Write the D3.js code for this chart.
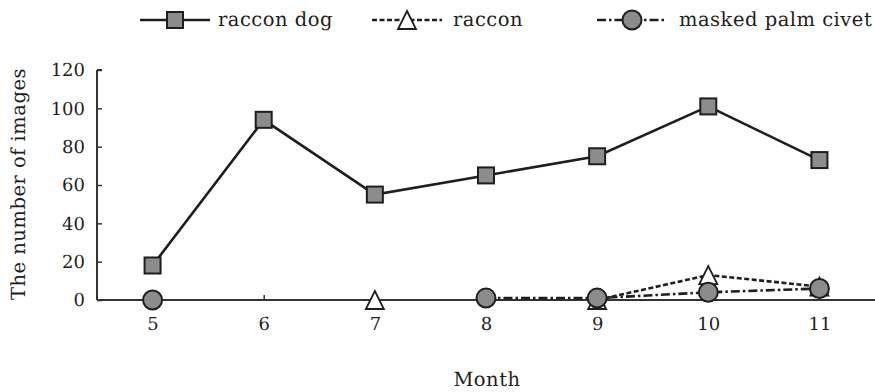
<!DOCTYPE html>
<html><head><meta charset="utf-8">
<script src="https://cdn.jsdelivr.net/npm/d3@7"></script>
<style>body{margin:0;background:#fff}svg{display:block}text{text-rendering:geometricPrecision}</style>
</head><body>
<script>
const months = [5, 6, 7, 8, 9, 10, 11];
const raccoonDog = [18, 94, 55, 65, 75, 101, 73];
const raccoon = [null, null, 0, null, 0, 13, 7];
const civet = [0, null, null, 1, 1, 4, 6];
const yTicks = [0, 20, 40, 60, 80, 100, 120];
const seriesNames = ["raccon dog", "raccon", "masked palm civet"];

const W = 875, H = 392;
const svg = d3.select("body").append("svg").attr("width", W).attr("height", H);
const font = "'DejaVu Serif', serif";
const ink = "#1e1e1e", grey = "#8c8c8e";

const x = d3.scaleLinear().domain([4.5, 11.5]).range([97, 875]);
const y = d3.scaleLinear().domain([0, 120]).range([300, 70]);

// axes
const yAxis = d3.axisLeft(y).tickValues(yTicks).tickFormat(d3.format("d")).tickSize(-5).tickPadding(12);
const gy = svg.append("g").attr("transform", "translate(97,0)").call(yAxis);
const xAxis = d3.axisBottom(x).tickValues(months).tickFormat(d3.format("d")).tickSize(-5).tickPadding(17);
const gx = svg.append("g").attr("transform", "translate(0,300)").call(xAxis);
[gx, gy].forEach(g => {
  g.select(".domain").attr("stroke", "#333").attr("stroke-width", 2);
  g.selectAll(".tick line").attr("stroke", "#333").attr("stroke-width", 1.5);
  g.selectAll(".tick text").attr("fill", ink).style("font-family", font).style("font-size", "18px");
});
gx.select(".domain").attr("d", `M${x.range()[0]},0H${x.range()[1]}`);
gy.select(".domain").attr("d", `M0,${y.range()[0]}V${y.range()[1]}M0,${y.range()[1]}H5`);

const wordStyle = s => s.style("font-family", font).style("font-size", "19.5px")
  .style("letter-spacing", "0.5px").attr("fill", ink);

// axis titles
svg.append("text").attr("x", 487).attr("y", 386).attr("text-anchor", "middle")
  .call(wordStyle).text("Month");
svg.append("text").attr("transform", "translate(25,184) rotate(-90)").attr("text-anchor", "middle")
  .call(wordStyle).text("The number of images");

const data = [
  {name: seriesNames[0], vals: raccoonDog, dash: null, marker: "square"},
  {name: seriesNames[1], vals: raccoon, dash: "5,2.5", marker: "triangle"},
  {name: seriesNames[2], vals: civet, dash: "9,3,2.5,3", marker: "circle"}
];

const line = d3.line().defined(d => d.v !== null).x(d => x(d.m)).y(d => y(d.v));

function drawMarker(g, type, cx, cy) {
  if (type === "square") {
    g.append("rect").attr("x", cx - 8).attr("y", cy - 8).attr("width", 16).attr("height", 16)
      .attr("fill", grey).attr("stroke", ink).attr("stroke-width", 2);
  } else if (type === "triangle") {
    g.append("path").attr("d", `M${cx},${cy - 9}L${cx + 9},${cy + 9}L${cx - 9},${cy + 9}Z`)
      .attr("fill", "#fff").attr("stroke", ink).attr("stroke-width", 1.8);
  } else {
    g.append("circle").attr("cx", cx).attr("cy", cy).attr("r", 9.5)
      .attr("fill", grey).attr("stroke", ink).attr("stroke-width", 2);
  }
}

// lines
data.forEach(s => {
  const pts = months.map((m, i) => ({m, v: s.vals[i]}));
  svg.append("path").datum(pts).attr("d", line).attr("fill", "none")
    .attr("stroke", ink).attr("stroke-width", 2.6)
    .attr("stroke-dasharray", s.dash);
});
// markers
data.forEach(s => {
  const g = svg.append("g");
  months.forEach((m, i) => {
    if (s.vals[i] !== null) drawMarker(g, s.marker, x(m), y(s.vals[i]));
  });
});

// legend
const legendPos = [{x0: 140, x1: 210, tx: 218}, {x0: 372, x1: 442, tx: 453}, {x0: 597, x1: 667, tx: 679}];
const ly = 20;
data.forEach((s, i) => {
  const p = legendPos[i];
  const g = svg.append("g");
  g.append("line").attr("x1", p.x0).attr("x2", p.x1).attr("y1", ly).attr("y2", ly)
    .attr("stroke", ink).attr("stroke-width", 2.6).attr("stroke-dasharray", s.dash);
  drawMarker(g, s.marker, (p.x0 + p.x1) / 2, ly);
  g.append("text").attr("x", p.tx).attr("y", ly + 6).call(wordStyle).text(s.name);
});
</script>
</body></html>
